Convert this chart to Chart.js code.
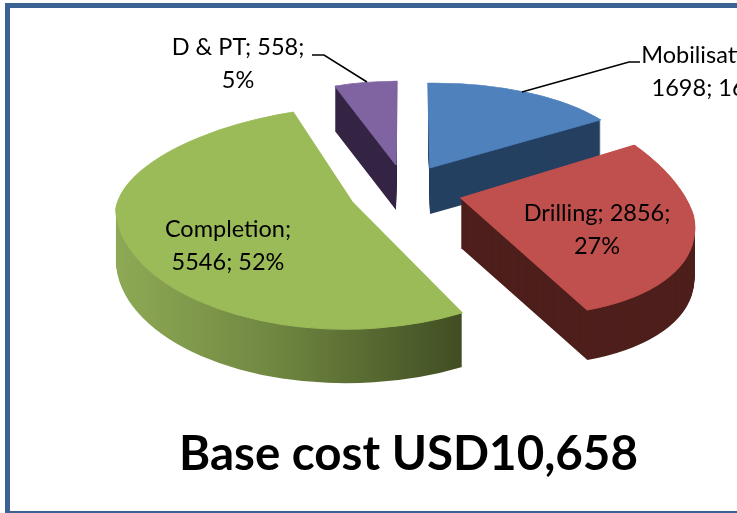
<!DOCTYPE html>
<html>
<head>
<meta charset="utf-8">
<title>Base cost</title>
<script src="https://cdn.jsdelivr.net/npm/chart.js@4"></script>
<style>
  html, body { margin: 0; padding: 0; background: #fff; }
  #page { position: relative; width: 737px; height: 513px; overflow: hidden; }
  #frame { position: absolute; left: 5px; top: 3px; width: 900px; height: 503px; border: 5px solid #3b6292; }
  #cost-chart { position: absolute; left: 0; top: 0; }
</style>
</head>
<body>
<div id="page">
  <div id="frame"></div>
  <canvas id="cost-chart" width="817" height="513"></canvas>
</div>
<script>
const categories = ['Mobilisation', 'Drilling', 'Completion', 'D & PT'];
const costs = [1698, 2856, 5546, 558];
const percents = [16, 27, 52, 5];
const chartTitle = 'Base cost USD10,658';

const topColors = ['#4f81bd', '#c0504d', '#9bbb59', '#8064a2'];
const sideColors = ['#254061', '#4e1f1c', null, '#362545'];

// Excel's perspective can't be had from a circle, so each slice gets its own
// mapping: apex on the page, u = sideways axis, vTop/vBot = the up and down axes
const faces = [
  { apex: [430, 168], u: [204, -2.5], vTop: [2, 85], vBot: [2, 85], depth: 46 },
  { apex: [461, 198], u: [232, 17], vTop: [40.7, 124.6], vBot: [26.8, 116.5], depth: 50 },
  { apex: [352, 202], u: [236, -7], vTop: [-18, 97.5], vBot: [6.7, 127], depth: 54 },
  { apex: [396, 165], u: [192, -1.5], vTop: [-1, 84], vBot: [-1, 84], depth: 45 },
];

// Text position of each label; breakAt = how many ';' parts go on the first line
const labelSpots = [
  { x: 708, y: 55, breakAt: 1 },
  { x: 597, y: 213, breakAt: 2 },
  { x: 228, y: 229, breakAt: 1 },
  { x: 238, y: 47, breakAt: 2 },
];
const leaderLines = [
  [[640, 62], [629, 62], [522, 92]],
  [[312, 55], [324, 55], [367, 82]],
];

function drawFace(ctx, el, face, dy, half) {
  const R = el.outerRadius;
  const [ax, ay] = face.apex;
  const u = face.u;
  const v = half === 'top' ? face.vTop : face.vBot;
  ctx.save();
  ctx.translate(0, dy);
  ctx.transform(u[0] / R, u[1] / R, v[0] / R, v[1] / R,
    ax - (u[0] * el.x + v[0] * el.y) / R,
    ay - (u[1] * el.x + v[1] * el.y) / R);
  ctx.beginPath();
  if (half === 'top') ctx.rect(el.x - 2 * R, el.y - 2 * R, 4 * R, 2 * R + 2);
  else ctx.rect(el.x - 2 * R, el.y, 4 * R, 2 * R);
  ctx.clip();
  el.draw(ctx);
  ctx.restore();
}

function sideFill(ctx, el, i) {
  if (sideColors[i]) return sideColors[i];
  // Completion's wall fades from lit to dark
  const grad = ctx.createLinearGradient(el.x - el.outerRadius, 0, el.x + el.outerRadius * 0.46, 0);
  grad.addColorStop(0, '#8ea955');
  grad.addColorStop(0.45, '#6f8640');
  grad.addColorStop(1, '#3f4c22');
  return grad;
}

const pie3d = {
  id: 'pie3d',
  beforeDatasetsDraw(chart) {
    const ctx = chart.ctx;
    const arcs = chart.getDatasetMeta(0).data;
    // back to front so that Drilling's top sits over Mobilisation's wall
    for (const i of [3, 0, 1, 2]) {
      const el = arcs[i];
      const base = el.options;
      el.options = { ...base, offset: 0, borderWidth: 0, borderColor: 'transparent', backgroundColor: sideFill(ctx, el, i) };
      for (let d = faces[i].depth; d >= 1; d--) {
        drawFace(ctx, el, faces[i], d, 'bot');
        drawFace(ctx, el, faces[i], d, 'top');
      }
      el.options = { ...base, offset: 0, borderWidth: 1.5, borderColor: topColors[i], backgroundColor: topColors[i] };
      drawFace(ctx, el, faces[i], 0, 'bot');
      drawFace(ctx, el, faces[i], 0, 'top');
      el.options = base;
    }
    return false;
  },
  afterDraw(chart) {
    const ctx = chart.ctx;
    ctx.save();
    ctx.strokeStyle = '#000';
    ctx.lineWidth = 1.5;
    for (const line of leaderLines) {
      ctx.beginPath();
      line.forEach((p, k) => (k ? ctx.lineTo(p[0], p[1]) : ctx.moveTo(p[0], p[1])));
      ctx.stroke();
    }
    ctx.fillStyle = '#000';
    ctx.font = '23.5px Lato, Carlito, sans-serif';
    ctx.textAlign = 'center';
    ctx.textBaseline = 'middle';
    categories.forEach((cat, i) => {
      const parts = [cat, costs[i], percents[i] + '%'];
      const spot = labelSpots[i];
      ctx.fillText(parts.slice(0, spot.breakAt).join('; ') + ';', spot.x, spot.y);
      ctx.fillText(parts.slice(spot.breakAt).join('; '), spot.x, spot.y + 33);
    });
    ctx.restore();
  },
};

new Chart(document.getElementById('cost-chart'), {
  type: 'pie',
  data: {
    labels: categories,
    datasets: [{ data: costs, backgroundColor: topColors, borderWidth: 0 }],
  },
  options: {
    responsive: false,
    animation: false,
    events: [],
    rotation: 0,
    plugins: {
      legend: { display: false },
      tooltip: { enabled: false },
      title: {
        display: true,
        text: chartTitle,
        position: 'bottom',
        color: '#000',
        font: { family: 'Lato, Carlito, sans-serif', size: 47.5, weight: 'bold' },
        padding: { top: 10, bottom: 30 },
      },
    },
  },
  plugins: [pie3d],
});
</script>
</body>
</html>
